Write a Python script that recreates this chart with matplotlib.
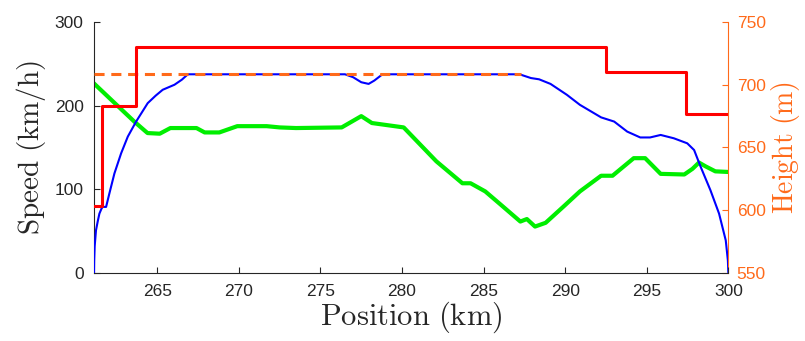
import matplotlib
matplotlib.use("Agg")
import matplotlib.pyplot as plt

plt.rcParams['mathtext.fontset'] = 'cm'
plt.rcParams['font.family'] = ['Liberation Sans', 'DejaVu Sans']

# Speed limit profile (step function, km/h)
limit_pos = [261.12, 261.6, 261.6, 263.7, 263.7, 292.5, 292.5, 297.4, 297.4, 300.0]
limit_val = [80, 80, 200, 200, 270, 270, 240, 240, 190, 190]

# Target cruising speed (km/h)
cruise_pos = [261.12, 287.3]
cruise_val = [237.5, 237.5]

# Train speed trajectory (km/h)
speed_pos = [261.12, 261.13, 261.16, 261.24, 261.35, 261.45, 261.58, 261.65, 261.86, 262.06,
             262.37, 262.78, 263.19, 263.7, 264.41, 264.9, 265.33, 266.05, 266.5, 266.87,
             276.5, 277.0, 277.5, 277.95, 278.3, 278.8, 287.2, 287.9, 288.4, 289.1,
             290.1, 290.9, 292.2, 293.0, 293.8, 294.6, 295.2, 295.85, 296.66, 297.48,
             297.9, 298.3, 298.9, 299.43, 299.84, 299.97, 300.0]
speed_val = [0, 15, 32, 51, 62, 71, 77, 79, 79, 95,
             119, 143, 163, 181, 203, 212, 219, 225, 231, 237.5,
             237.5, 234, 228, 226, 230, 237.5, 237.5, 233, 231.5, 226,
             213, 201, 186, 181, 169, 162, 162, 165, 161, 155,
             147, 127, 99, 71, 39, 15, 0]

# Track height profile (m)
height_pos = [261.12, 262.5, 263.6, 264.4, 265.15, 265.8, 267.4, 267.9, 268.8, 269.9,
              271.7, 272.5, 273.5, 276.3, 277.5, 278.15, 280.1, 282.1, 283.7, 284.2,
              285.1, 286.0, 287.25, 287.65, 288.15, 288.8, 289.9, 290.9, 292.2, 292.9,
              294.2, 294.9, 295.85, 297.3, 297.8, 298.2, 298.6, 299.2, 300.0]
height_val = [701, 684, 670.5, 661.5, 661, 665.5, 665.5, 662, 662, 667,
              667, 666, 665.5, 666, 675, 669.5, 666, 639, 621.5, 621.5,
              615, 605, 591, 593, 587, 590, 603, 615, 627.5, 627.5,
              641.5, 641.5, 629, 628.5, 633, 638, 635, 631, 630.5]

orange = '#FF6A1A'
gray = '#262626'

fig = plt.figure(figsize=(8.05, 3.41), dpi=100)
ax = fig.add_axes([0.1168, 0.1994, 0.7880, 0.7361])
ax2 = ax.twinx()

ax.plot(speed_pos, speed_val, color='#0000FF', lw=1.5, zorder=3)
ax.plot(cruise_pos, cruise_val, color=orange, lw=2.2, linestyle=(0, (3.3, 2.2)), zorder=4)
ax.plot(limit_pos, limit_val, color='#FF0000', lw=2.2, zorder=5)
ax2.plot(height_pos, height_val, color='#00EE00', lw=3, zorder=2)

ax.set_xlim(261.12, 300)
ax.set_ylim(0, 300)
ax2.set_ylim(550, 750)
ax.set_xticks([265, 270, 275, 280, 285, 290, 295, 300])
ax.set_yticks([0, 100, 200, 300])
ax2.set_yticks([550, 600, 650, 700, 750])

ax.set_zorder(ax2.get_zorder() + 1)
ax.patch.set_visible(False)

for a in (ax, ax2):
    a.spines['top'].set_visible(False)
ax.spines['right'].set_visible(False)
ax2.spines['left'].set_visible(False)
ax2.spines['bottom'].set_visible(False)
ax.spines['left'].set_color(gray)
ax.spines['bottom'].set_color(gray)
ax2.spines['right'].set_color(orange)
for s in ('left', 'bottom'):
    ax.spines[s].set_linewidth(0.8)
ax2.spines['right'].set_linewidth(0.8)

ax.tick_params(axis='y', direction='in', length=4, width=0.8, colors=gray, labelsize=12.5, pad=7.5)
ax.tick_params(axis='x', direction='in', length=4, width=0.8, colors=gray, labelsize=12.5, pad=8)
ax2.tick_params(direction='in', length=4, width=0.8, colors=orange, labelsize=12.5, pad=6)

ax.set_xlabel(r'$\mathrm{Position\ (km)}$', fontsize=22, color=gray, labelpad=0)
ax.set_ylabel(r'$\mathrm{Speed\ (km/h)}$', fontsize=21, color=gray, labelpad=5)
ax2.set_ylabel(r'$\mathrm{Height\ (m)}$', fontsize=20, color=orange, labelpad=2)

fig.savefig('out.png', dpi=100)
